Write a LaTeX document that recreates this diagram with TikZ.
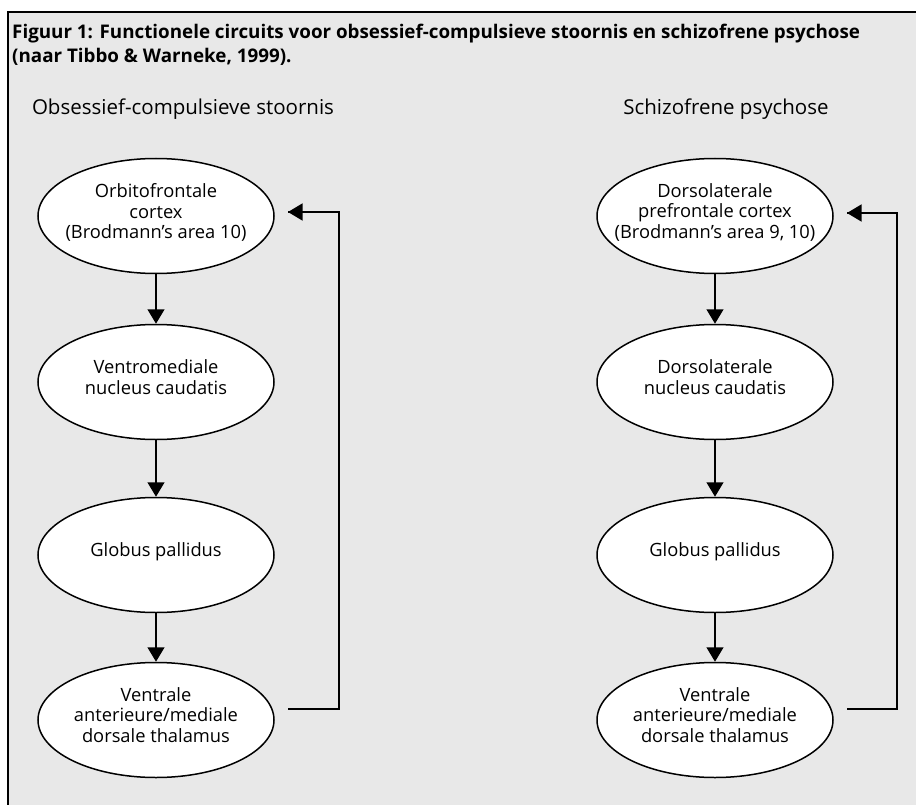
\documentclass[tikz,border=0pt]{standalone}
\usepackage{fontspec}
\setmainfont{Open Sans}
\usetikzlibrary{arrows.meta,shapes.geometric}
\definecolor{bg}{HTML}{E8E8E8}
\begin{document}
\begin{tikzpicture}[x=1pt,y=-1pt,
  stage/.style={ellipse,draw,fill=white,line width=1.5pt,minimum width=236pt,
    minimum height=115pt,inner ysep=0pt,inner xsep=-40pt,align=center,
    text depth=10pt,font=\fontsize{18.3}{20.5}\selectfont},
  conn/.style={line width=1.5pt,-{Triangle[width=17pt,length=14.5pt]}},
  fb/.style={line width=1.5pt},
  heading/.style={anchor=base,inner sep=0pt,font=\fontsize{20.5}{24}\selectfont},
]
\useasboundingbox (0,0) rectangle (916,805);
\fill[white] (0,0) rectangle (916,805);
\fill[bg] (7.5,12) rectangle (916,805);
\draw[line width=2pt] (7.5,805) -- (7.5,12) -- (916,12);

\node[anchor=north west,inner sep=0pt,align=left,
  font=\bfseries\fontsize{18.8}{24}\selectfont] (title) at (12,23.5)
  {Figuur 1: Functionele circuits voor obsessief-compulsieve stoornis en schizofrene psychose\\
   (naar Tibbo \& Warneke, 1999).};

\node[heading] (h1) at (183,115) {Obsessief-compulsieve stoornis};
\node[heading] (h2) at (726,115) {Schizofrene psychose};

% left column
\node[stage] (l1) at (156,216) {Orbitofrontale\\cortex\\(Brodmann’s area 10)};
\node[stage] (l2) at (156,382) {Ventromediale\\nucleus caudatis};
\node[stage] (l3) at (156,555) {Globus pallidus};
\node[stage] (l4) at (156,720) {Ventrale\\anterieure/mediale\\dorsale thalamus};

\draw[conn] (l1) -- (l2);
\draw[conn] (l2) -- (l3);
\draw[conn] (l3) -- (l4);

\coordinate (lfs) at (288,709);
\coordinate (lfb) at (339,709);
\coordinate (lft) at (339,212);
\coordinate (lfe) at (288,212);
\draw[fb] (lfs) -- (lfb) -- (lft) -- (lfe);
\draw[conn] (lft) -- (lfe);

% right column
\node[stage] (r1) at (715,216) {Dorsolaterale\\prefrontale cortex\\(Brodmann’s area 9, 10)};
\node[stage] (r2) at (715,382) {Dorsolaterale\\nucleus caudatis};
\node[stage] (r3) at (715,555) {Globus pallidus};
\node[stage] (r4) at (715,720) {Ventrale\\anterieure/mediale\\dorsale thalamus};

\draw[conn] (r1) -- (r2);
\draw[conn] (r2) -- (r3);
\draw[conn] (r3) -- (r4);

\coordinate (rfs) at (847,709);
\coordinate (rfb) at (897,709);
\coordinate (rft) at (897,213);
\coordinate (rfe) at (847,213);
\draw[fb] (rfs) -- (rfb) -- (rft) -- (rfe);
\draw[conn] (rft) -- (rfe);
\end{tikzpicture}
\end{document}
